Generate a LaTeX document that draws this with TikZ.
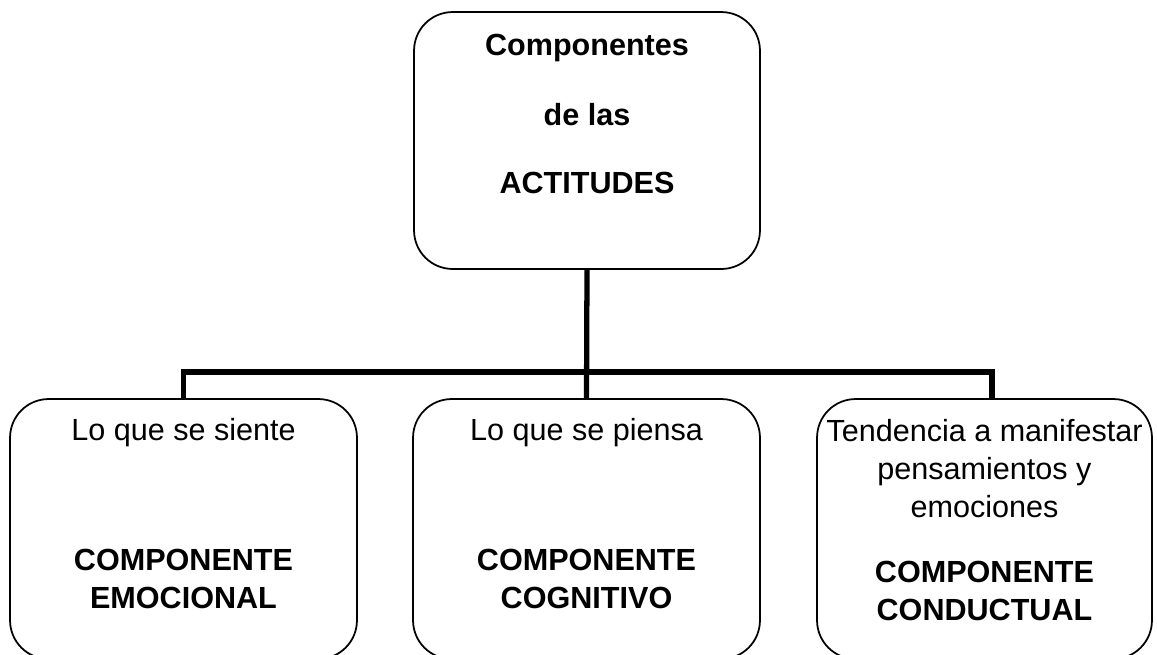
\documentclass[tikz,border=0pt]{standalone}
\usepackage{fontspec}
\setmainfont{Liberation Sans}
\begin{document}
\begin{tikzpicture}[x=0.02cm,y=-0.02cm,line join=miter]
\tikzstyle{box} = [draw,line width=1pt,rounded corners=22pt,inner sep=0pt]
\tikzstyle{lbl} = [font=\fontsize{17.4}{21.5}\selectfont,align=center,inner sep=0pt]
\tikzstyle{bld} = [font=\fontsize{17.4}{21.5}\selectfont\bfseries,align=center,inner sep=0pt]
\tikzstyle{link} = [line width=3pt]
\useasboundingbox (0,0) rectangle (1157,654);
\node[box,minimum width=6.92cm,minimum height=5.14cm] (top) at (587,140.5) {};
\node[box,minimum width=6.94cm,minimum height=5.2cm] (emo) at (183.5,529) {};
\node[box,minimum width=6.94cm,minimum height=5.2cm] (cog) at (586.5,529) {};
\node[box,minimum width=6.7cm,minimum height=5.2cm] (cond) at (984.5,529) {};
\coordinate (jn) at (587,372);
\draw[link](top.south)--(cog.north);
\draw[link](emo.north)--(emo.north |- jn)--([xshift=0.15cm]cond.north |- jn)--([xshift=0.15cm]cond.north);
\node[bld,anchor=base] (t1) at (587,55) {Componentes};
\node[bld,anchor=base] (t2) at (587,125) {de las};
\node[bld,anchor=base] (t3) at (587,193) {ACTITUDES};
\node[lbl,anchor=base] (emo-q) at (183.5,440) {Lo que se siente};
\node[bld,anchor=base] (emo-n) at (183.5,608) {COMPONENTE\\EMOCIONAL};
\node[lbl,anchor=base] (cog-q) at (586.5,440) {Lo que se piensa};
\node[bld,anchor=base] (cog-n) at (586.5,608) {COMPONENTE\\COGNITIVO};
\node[lbl,anchor=base] (cond-q) at (984.5,517) {Tendencia a manifestar\\pensamientos y\\emociones};
\node[bld,anchor=base] (cond-n) at (984.5,620) {COMPONENTE\\CONDUCTUAL};
\end{tikzpicture}
\end{document}
